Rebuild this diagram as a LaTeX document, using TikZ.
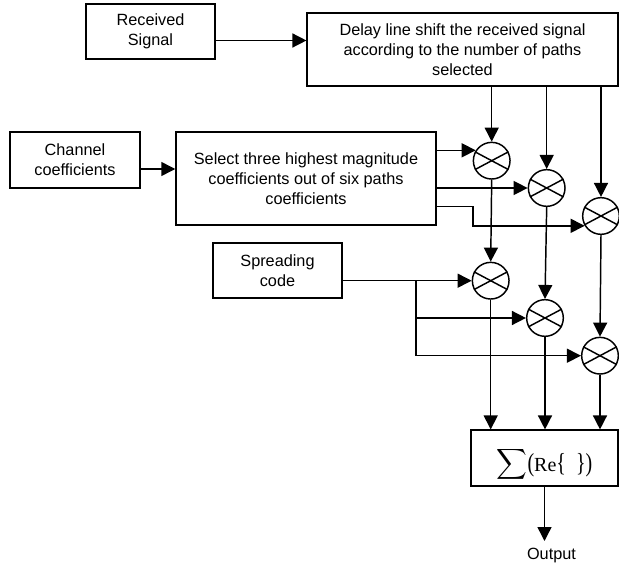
\documentclass[tikz,border=0pt]{standalone}
\usepackage{fontspec}
\usepackage{graphicx}
\setmainfont{Liberation Sans}
\newfontfamily\sumfont{Liberation Serif}
\usetikzlibrary{arrows.meta}
\tikzset{
  blockbox/.style={draw,line width=1.1pt,align=center,inner sep=0pt,font=\fontsize{12.2}{15}\selectfont},
  mult/.style={draw,circle,line width=1.1pt,minimum size=27.5pt,inner sep=0pt},
  conn/.style={line width=1.1pt,-{Triangle[length=10.5pt,width=10.5pt]}},
  plainconn/.style={line width=1.1pt}
}
\begin{document}
\begin{tikzpicture}[x=0.75pt,y=-0.75pt]
\useasboundingbox (0,0) rectangle (619,567);
\node[blockbox,minimum width=96.75pt,minimum height=41.25pt] (received) at (150.5,31.5) {Received\\Signal};
\node[blockbox,minimum width=233pt,minimum height=54.75pt] (delay) at (462.5,49.5) {Delay line shift the received signal\\according to the number of paths\\selected};
\node[blockbox,minimum width=97.5pt,minimum height=42pt] (channel) at (75,160) {Channel\\coefficients};
\node[blockbox,minimum width=195pt,minimum height=70pt] (select) at (306,178.5) {Select three highest magnitude\\coefficients out of six paths\\coefficients};
\node[blockbox,minimum width=96.75pt,minimum height=41.25pt] (spreading) at (277.5,270.5) {Spreading\\code};
\node[blockbox,minimum width=110.5pt,minimum height=41.75pt] (sumbox) at (544.5,458) {\raisebox{-10pt}[0pt][0pt]{\scalebox{1.6}{$\displaystyle\sum$}\sumfont\fontsize{15}{17}\selectfont\scalebox{1}[1.3]{(}Re\scalebox{1}[1.3]{\{}\ \ \scalebox{1}[1.3]{\}}\scalebox{1}[1.3]{)}}};
\node[font=\fontsize{12.2}{15}\selectfont,inner sep=0pt] (output) at (551.5,556) {Output};
\foreach \n/\x/\y in {c1/491.7/160.7,c2/546.7/188,c3/601/216,d1/490.7/280.7,d2/545/318,d3/600/355.7} {
  \node[mult] (\n) at (\x,\y) {};
  \draw[plainconn] (\n.152) -- (\n.332);
  \draw[plainconn] (\n.28) -- (\n.208);
}
\coordinate (jog) at (473,206.7);
\coordinate (tap) at (416,280.7);
\coordinate (outtip) at (544.5,541);
\coordinate (chanout) at (140,169);
\draw[conn] (received.east |- 0,40.5) -- (delay.west |- 0,40.5);
\draw[conn] (chanout) -- (select.west |- chanout);
\foreach \n in {c1,c2,c3} \draw[conn] (\n |- delay.south) -- (\n.north);
\draw[conn] (select.east |- c1.147) -- (c1.147);
\draw[conn] (select.east |- c2.west) -- (c2.west);
\draw[conn] (select.east |- jog) -- (jog) |- (c3.211);
\draw[conn] (c1.south) -- (d1.north);
\draw[conn] (c2.south) -- (d2.north);
\draw[conn] (c3.south) -- (d3.north);
\draw[conn] (spreading.east |- d1.west) -- (d1.west);
\draw[conn] (tap) |- (d2.west);
\draw[conn] (tap) |- (d3.west);
\foreach \n in {d1,d2,d3} \draw[conn] (\n.south) -- (\n |- sumbox.north);
\draw[conn] (sumbox.south) -- (outtip);
\end{tikzpicture}
\end{document}
